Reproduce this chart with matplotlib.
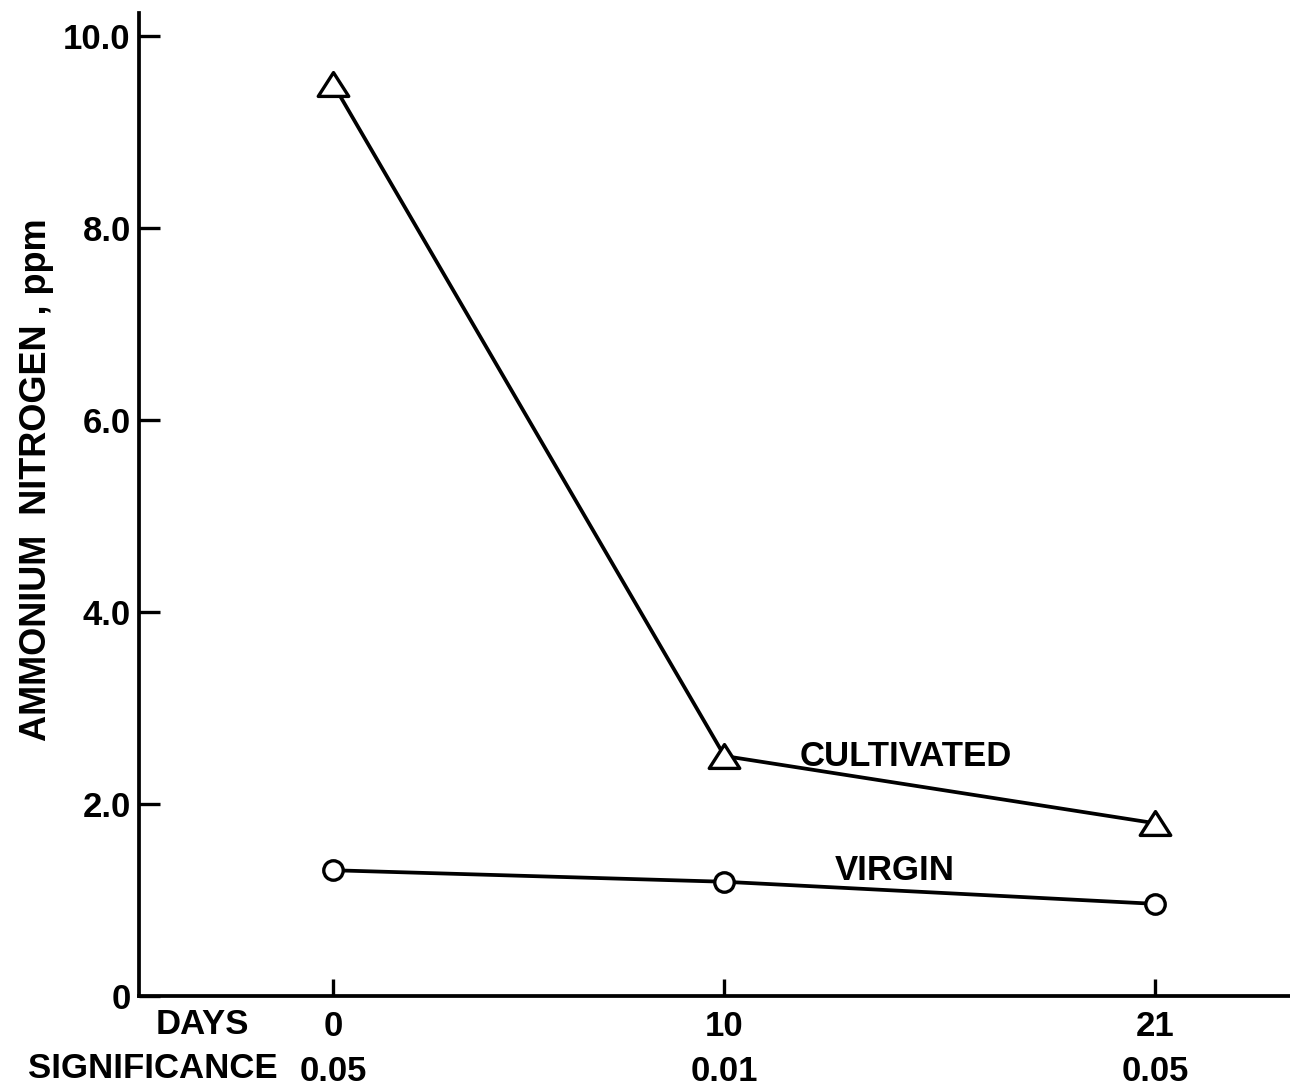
import matplotlib
matplotlib.use("Agg")
import matplotlib.pyplot as plt
from matplotlib.path import Path

days = [0, 10, 21]
significance = ["0.05", "0.01", "0.05"]
cultivated = [9.5, 2.5, 1.8]
virgin = [1.31, 1.19, 0.96]
y_ticks = [0, 2, 4, 6, 8, 10]
y_tick_labels = ["0", "2.0", "4.0", "6.0", "8.0", "10.0"]

FONT = "Liberation Sans"
FS = 25
plt.rcParams["font.family"] = [FONT, "DejaVu Sans"]
plt.rcParams["font.weight"] = "bold"

W, H = 1290, 1087
fig = plt.figure(figsize=(W / 100, H / 100), dpi=100)
ax_left, ax_right = 139, 1290
ax_bottom, ax_top = 996, 13
ax = fig.add_axes([ax_left / W, (H - ax_bottom) / H,
                   (ax_right - ax_left) / W, (ax_bottom - ax_top) / H])

tri = Path([(-1, -0.78), (1, -0.78), (0, 0.78), (-1, -0.78)],
           [Path.MOVETO, Path.LINETO, Path.LINETO, Path.CLOSEPOLY])

ax.plot(days, cultivated, color="black", lw=2.7, marker=tri, ms=22,
        mfc="white", mec="black", mew=2.4, zorder=3)
ax.plot(days, virgin, color="black", lw=2.7, marker="o", ms=14,
        mfc="white", mec="black", mew=2.4, zorder=3)

ax.set_xlim(-4.96, 24.45)
ax.set_ylim(0, 10.24)

for s in ["top", "right"]:
    ax.spines[s].set_visible(False)
for s in ["left", "bottom"]:
    ax.spines[s].set_linewidth(2.7)

ax.set_yticks(y_ticks)
ax.set_yticklabels(y_tick_labels, fontsize=FS, fontweight="bold")
ax.set_xticks(days)
ax.set_xticklabels([f"{d}\n{s}" for d, s in zip(days, significance)],
                   fontsize=FS, fontweight="bold", linespacing=1.45)
ax.tick_params(axis="y", direction="in", length=15, width=2.4, pad=6)
ax.tick_params(axis="x", direction="in", length=12, width=2.4, pad=10)

ax.text(11.93, 2.49, "CULTIVATED", fontsize=FS, fontweight="bold",
        ha="left", va="center")
ax.text(12.83, 1.31, "VIRGIN", fontsize=FS, fontweight="bold",
        ha="left", va="center")

fig.text(202 / W, 1 - 1024 / H, "DAYS", fontsize=FS, fontweight="bold",
         ha="center", va="center")
fig.text(28 / W, 1 - 1068 / H, "SIGNIFICANCE", fontsize=FS, fontweight="bold",
         ha="left", va="center")
fig.text(37 / W, 1 - 480 / H, "AMMONIUM  NITROGEN , ppm", fontsize=26,
         fontweight="bold", rotation=90, ha="center", va="center")

fig.savefig("out.png", dpi=100, facecolor="white")
